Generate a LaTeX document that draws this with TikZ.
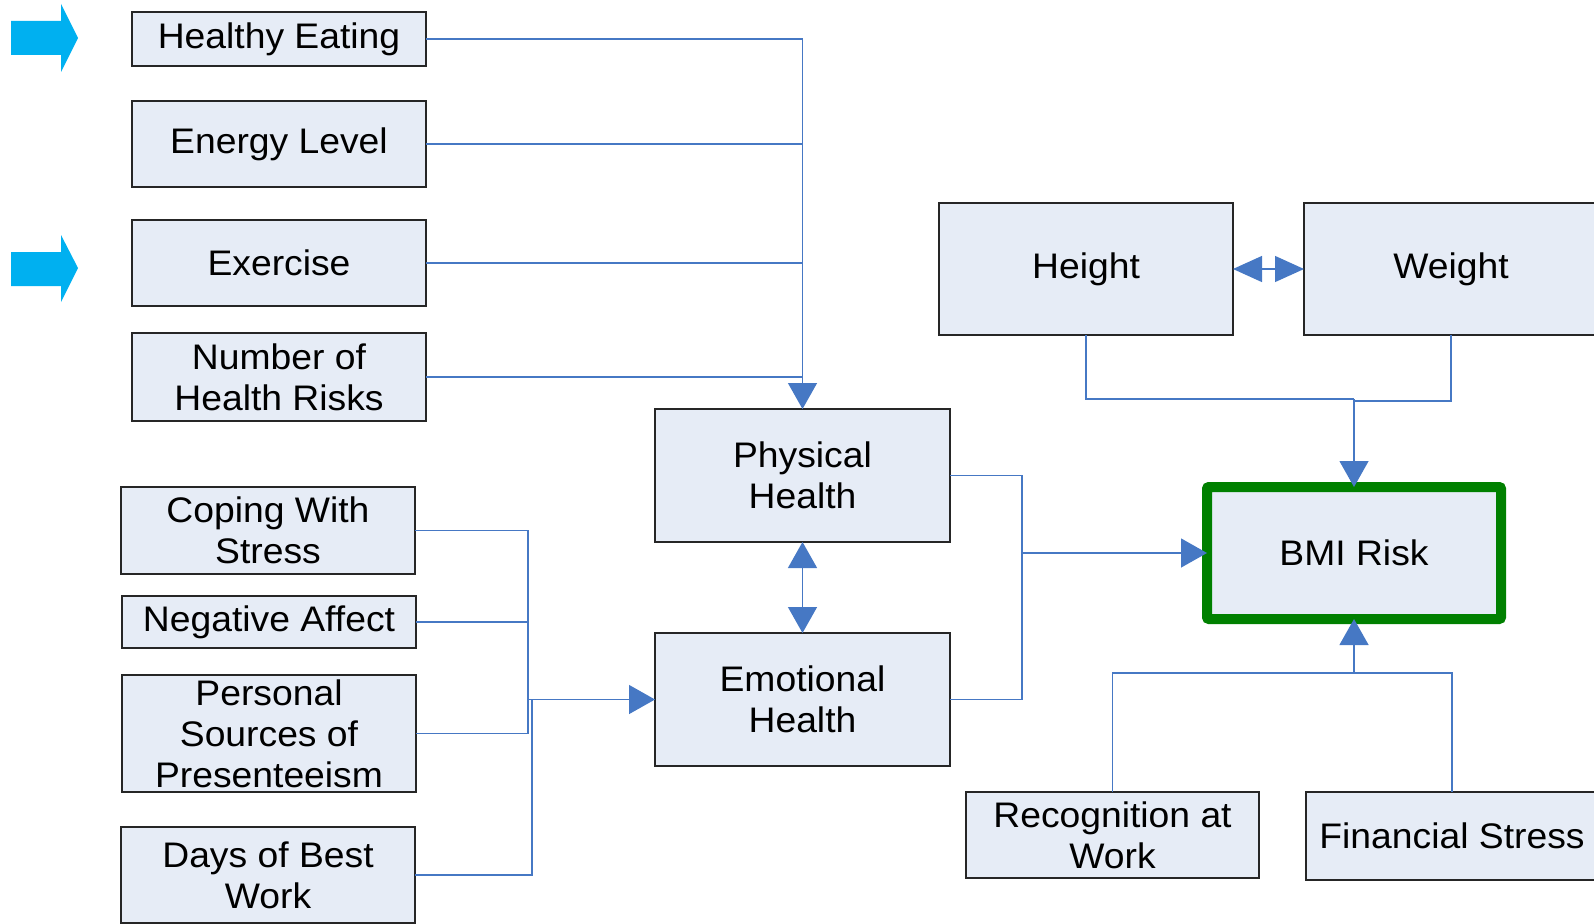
\documentclass[tikz,border=0pt]{standalone}
\usepackage{fontspec}
\setmainfont{Liberation Sans}[FakeStretch=1.05]
\usetikzlibrary{arrows.meta}
\definecolor{boxfill}{RGB}{230,236,246}
\definecolor{conncol}{RGB}{70,120,196}
\definecolor{greenbd}{RGB}{0,128,0}
\definecolor{cyanarrow}{RGB}{0,176,240}
\tikzset{
  box/.style={draw=black!85, line width=1.3pt, fill=boxfill, inner sep=0pt, outer sep=0pt,
    align=center, font=\fontsize{35.5}{41}\selectfont, minimum width=294pt},
  conn/.style={draw=conncol, line width=1.3pt},
  tip/.style={-{Triangle[length=26pt,width=29pt]}},
  tips/.style={{Triangle[length=26pt,width=29pt]}-{Triangle[length=26pt,width=29pt]}},
  tipsh/.style={{Triangle[length=29pt,width=26pt]}-{Triangle[length=29pt,width=26pt]}},
  bigarrow/.style={fill=cyanarrow, draw=none},
}
\begin{document}
\begin{tikzpicture}[x=1pt,y=-1pt]
\useasboundingbox (0,0) rectangle (1594,923);
\clip (0,0) rectangle (1594,923);
% decorative arrows
\fill[bigarrow] (11,21) -- (61,21) -- (61,4) -- (78,38) -- (61,72) -- (61,55) -- (11,55) -- cycle;
\fill[bigarrow] (11,252) -- (61,252) -- (61,235) -- (78,268) -- (61,302) -- (61,286) -- (11,286) -- cycle;
% boxes
\node[box, minimum height=54pt] (he) at (279,39) {Healthy Eating};
\node[box, minimum height=86pt] (en) at (279,144) {Energy Level};
\node[box, minimum height=86pt] (ex) at (279,263) {Exercise};
\node[box, minimum height=88pt] (nr) at (279,377) {Number of\\Health Risks};
\node[box, minimum height=87pt] (cw) at (268,530.5) {Coping With\\Stress};
\node[box, minimum height=52pt] (na) at (269,622) {Negative Affect};
\node[box, minimum height=117pt] (ps) at (269,733.5) {Personal\\Sources of\\Presenteeism};
\node[box, minimum height=96pt] (dw) at (268,875) {Days of Best\\Work};
\node[box, minimum width=295pt, minimum height=133pt] (ph) at (802.5,475.5) {Physical\\Health};
\node[box, minimum width=295pt, minimum height=133pt] (eh) at (802.5,699.5) {Emotional\\Health};
\node[box, minimum height=132pt] (hg) at (1086,269) {Height};
\node[box, minimum height=132pt] (wg) at (1451,269) {Weight};
\node[box, draw=greenbd, line width=10pt, rounded corners=2pt, minimum height=132pt] (bmi) at (1354,553) {BMI Risk};
\node[box, minimum width=293pt, minimum height=86pt] (rw) at (1112.5,835) {Recognition at\\Work};
\node[box, minimum width=292pt, minimum height=88pt] (fs) at (1452,836) {Financial Stress};
% junctions
\coordinate (j1) at (528,699.5);
\coordinate (j2) at (532,699.5);
\coordinate (j3) at (1022,553);
\coordinate (j4) at (1354,399);
\coordinate (j5) at (1354,401);
\coordinate (j6) at (1354,673);
% top-left group
\draw[conn] (en.east) -| (ph.north);
\draw[conn] (ex.east) -| (ph.north);
\draw[conn] (nr.east) -| (ph.north);
\draw[conn,tip] (he.east) -| (ph.north);
% bottom-left group
\draw[conn] (cw.east) -| (j1);
\draw[conn] (na.east) -| (j1);
\draw[conn] (ps.east) -| (j1);
\draw[conn] (dw.east) -| (j2);
\draw[conn,tip] (j1) -- (eh.west);
% health to BMI
\draw[conn,tips] (ph.south) -- (eh.north);
\draw[conn] (ph.east) -| (j3);
\draw[conn] (eh.east) -| (j3);
\draw[conn,tip] (j3) -- (bmi.west);
% height/weight
\draw[conn,tipsh] (hg.east) -- (wg.west);
\draw[conn] (hg.south) |- (j4);
\draw[conn] (wg.south) |- (j5);
\draw[conn,tip] (j4) -- (bmi.north);
% bottom right
\draw[conn] (rw.north) |- (j6);
\draw[conn] (fs.north) |- (j6);
\draw[conn,tip] (j6) -- (bmi.south);
\end{tikzpicture}
\end{document}
